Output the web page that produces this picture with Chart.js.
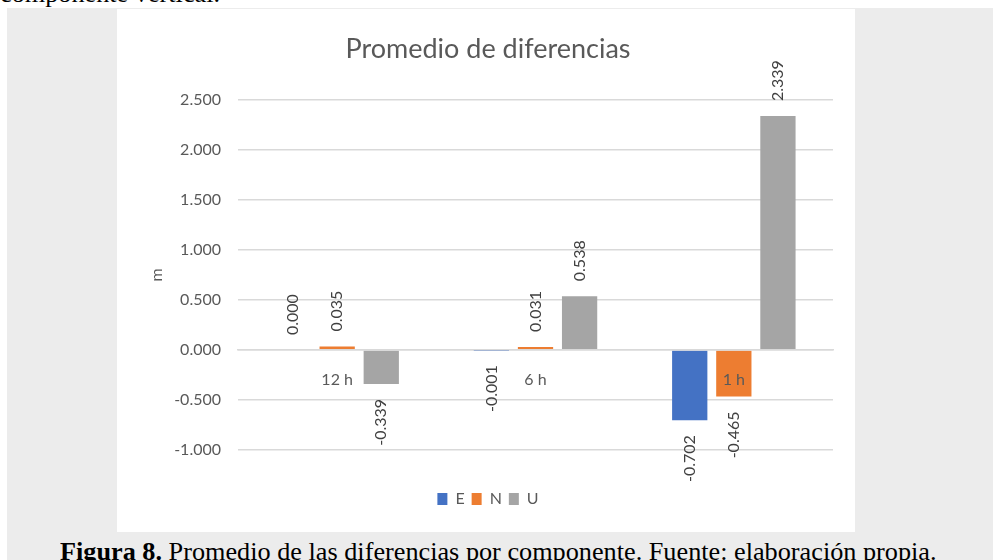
<!DOCTYPE html>
<html lang="es">
<head>
    <meta charset="UTF-8">
    <title>Promedio de diferencias</title>
    <style>
        html, body {
            margin: 0;
            width: 993px;
            height: 560px;
            overflow: hidden;
            background: #fff;
        }
        .panel {
            position: absolute;
            left: 7px;
            top: 8px;
            right: 0;
            bottom: 0;
            background: #ececec;
        }
        .chart-box {
            position: absolute;
            left: 117px;
            top: 9px;
            width: 738px;
            height: 523px;
            background: #fff;
        }
        .doc-text {
            position: absolute;
            font-family: "Liberation Serif", serif;
            font-size: 26px;
            line-height: 26px;
            color: #000;
            white-space: nowrap;
            transform-origin: 0 0;
        }
        #prevLine { left: 0; top: -19px; }
        #caption { top: 539px; }
    </style>
</head>
<body>
    <div id="prevLine" class="doc-text">componente vertical.</div>
    <div class="panel"></div>
    <div class="chart-box">
        <canvas id="diffChart"></canvas>
    </div>
    <div id="caption" class="doc-text"><b>Figura 8.</b> Promedio de las diferencias por componente. Fuente: elaboración propia.</div>

    <script src="https://cdn.jsdelivr.net/npm/chart.js"></script>
    <script>
        // datos (m)
        const categories = ['12 h', '6 h', '1 h'];
        const valuesE = [0.000, -0.001, -0.702];
        const valuesN = [0.035, 0.031, -0.465];
        const valuesU = [-0.339, 0.538, 2.339];
        const yTicks = [-1, -0.5, 0, 0.5, 1, 1.5, 2, 2.5];

        // the scanned page text is squeezed horizontally
        const cap = document.getElementById('caption');
        const k = 877 / cap.offsetWidth;
        cap.style.transform = 'scaleX(' + k + ')';
        cap.style.left = (498 - 877 / 2) + 'px';
        document.getElementById('prevLine').style.transform = 'scaleX(' + k + ')';

        // rotated value labels at the end of each bar
        const barLabels = {
            id: 'barLabels',
            afterDatasetsDraw(chart) {
                const ctx = chart.ctx;
                ctx.save();
                ctx.font = '16px Lato';
                ctx.fillStyle = '#404040';
                ctx.textBaseline = 'middle';
                chart.data.datasets.forEach((ds, i) => {
                    chart.getDatasetMeta(i).data.forEach((bar, j) => {
                        const v = ds.data[j];
                        ctx.save();
                        ctx.translate(bar.x, bar.y);
                        ctx.rotate(-Math.PI / 2);
                        if (v >= 0) {
                            ctx.textAlign = 'left';
                            ctx.fillText(v.toFixed(3), 15, 0);
                        } else {
                            ctx.textAlign = 'right';
                            ctx.fillText(v.toFixed(3), -15, 0);
                        }
                        ctx.restore();
                    });
                });
                ctx.restore();
            }
        };

        const font = { family: 'Lato', size: 16 };
        const textColor = '#595959';

        new Chart(document.getElementById('diffChart'), {
            type: 'bar',
            data: {
                labels: categories,
                datasets: [
                    { label: 'E', data: valuesE, backgroundColor: '#4472C4' },
                    { label: 'N', data: valuesN, backgroundColor: '#ED7D31' },
                    { label: 'U', data: valuesU, backgroundColor: '#A5A5A5' }
                ]
            },
            options: {
                responsive: true,
                maintainAspectRatio: false,
                animation: false,
                categoryPercentage: 0.667,
                barPercentage: 0.8,
                layout: {
                    padding: { left: 26, right: 22, top: 0, bottom: 15 }
                },
                plugins: {
                    tooltip: { enabled: false },
                    title: {
                        display: true,
                        text: 'Promedio de diferencias',
                        color: textColor,
                        font: { family: 'Lato', size: 27, weight: 'normal' },
                        padding: { top: 24, bottom: 34.6 }
                    },
                    legend: {
                        position: 'bottom',
                        title: {
                            display: true,
                            text: ' ',
                            font: { size: 10 },
                            padding: { top: 22, bottom: 0 }
                        },
                        labels: {
                            boxWidth: 10,
                            boxHeight: 12,
                            padding: 7,
                            color: textColor,
                            font: font
                        }
                    }
                },
                scales: {
                    x: {
                        position: { y: 0 },
                        grid: { display: false, drawTicks: false },
                        border: { display: true, color: '#d9d9d9', width: 1.5, z: 1 },
                        ticks: { padding: 20, color: textColor, font: font, z: 1 }
                    },
                    y: {
                        min: yTicks[0],
                        max: yTicks[yTicks.length - 1],
                        afterFit: (scale) => { scale.width = 95; },
                        afterBuildTicks: (scale) => {
                            scale.ticks = yTicks.map(v => ({ value: v }));
                        },
                        grid: { color: '#d9d9d9', lineWidth: 1.5, drawTicks: false },
                        border: { display: false },
                        title: {
                            display: true,
                            text: 'm',
                            color: textColor,
                            font: font,
                            padding: { top: 4, bottom: 4 }
                        },
                        ticks: {
                            padding: 17,
                            color: textColor,
                            font: font,
                            callback: (v) => Number(v).toFixed(3)
                        }
                    }
                }
            },
            plugins: [barLabels]
        });
    </script>
</body>
</html>
